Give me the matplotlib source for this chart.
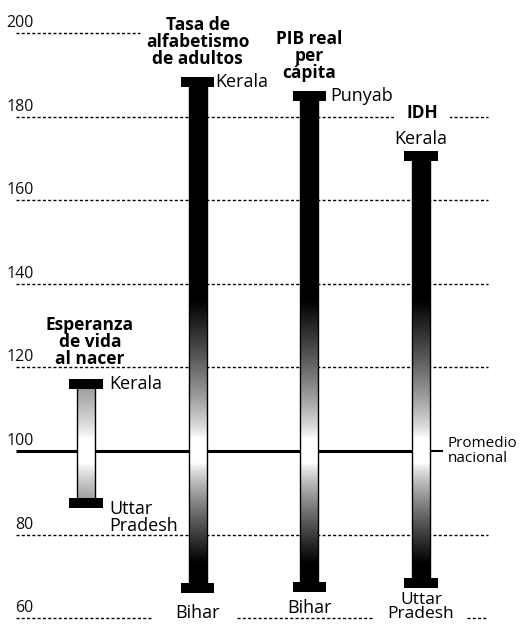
import numpy as np
import matplotlib
matplotlib.use("Agg")
import matplotlib.pyplot as plt

plt.rcParams['font.family'] = ['Open Sans', 'DejaVu Sans']

# ---------------- data ----------------
indicators = ["Esperanza\nde vida\nal nacer", "Tasa de\nalfabetismo\nde adultos",
              "PIB real\nper\ncápita", "IDH"]
high_values = [116.0, 188.3, 185.0, 170.6]
low_values = [87.6, 67.2, 67.5, 68.4]
high_states = ["Kerala", "Kerala", "Punyab", "Kerala"]
low_states = ["Uttar\nPradesh", "Bihar", "Bihar", "Uttar\nPradesh"]
national_average = 100
tick_values = [60, 80, 100, 120, 140, 160, 180, 200]
average_label = "Promedio\nnacional"

# ---------------- figure ----------------
W, H = 521, 630
fig = plt.figure(figsize=(W / 100, H / 100), dpi=100)
ax = fig.add_axes([0, 0, 1, 1])
ax.set_xlim(-0.77, 3.895)
ax.set_ylim(57.2, 207.9)
ax.axis('off')

x = np.arange(len(indicators))
body_w = 0.16
cap_w = 0.30
cap_h = 2.4

# gridlines (dotted) with segments
dot = dict(color='black', lw=1.0, linestyle=(0, (2.2, 1.6)), zorder=1)
grid_segments = {
    200: [(-0.63, 0.485)],
    180: [(-0.63, 3.6)],
    160: [(-0.63, 3.6)],
    140: [(-0.63, 3.6)],
    120: [(-0.63, 3.6)],
    80: [(-0.63, 3.6)],
    60: [(-0.63, 0.59), (1.35, 2.56), (3.41, 3.6)],
}
for v, segs in grid_segments.items():
    for a, b in segs:
        ax.plot([a, b], [v, v], **dot)

# national average line
ax.plot([-0.63, x[-1]], [national_average, national_average], color='black', lw=2.2,
        zorder=2, solid_capstyle='butt')
ax.plot([x[-1] + 0.08, x[-1] + 0.19], [national_average, national_average],
        color='black', lw=1.5, zorder=2)
ax.text(x[-1] + 0.235, national_average, average_label, ha='left', va='center',
        fontsize=11, linespacing=1.0, zorder=5)

# tick labels
for v in tick_values:
    ax.annotate(str(v), (-0.47, v), xytext=(0, 10), textcoords='offset pixels',
                ha='right', va='center', fontsize=11.5, color='#111111')

# gradient bars
def shade(vals, strength):
    d = np.where(vals >= national_average,
                 (vals - national_average - 3) / 33.0,
                 (national_average - vals - 3) / 24.0)
    d = np.clip(d, 0, 1) ** 0.8
    return 1 - np.clip(d * strength, 0, 1)

cmap = plt.get_cmap('gray')
strengths = [0.85, 1.0, 1.0, 1.0]
for i in range(len(indicators)):
    lo, hi = low_values[i], high_values[i]
    vals = np.linspace(hi, lo, 400)
    g = shade(vals, strengths[i])[:, None]
    ax.imshow(g, cmap=cmap, vmin=0, vmax=1, aspect='auto', interpolation='bilinear',
              extent=(x[i] - body_w / 2, x[i] + body_w / 2, lo, hi), zorder=3)
    ax.bar(x[i], hi - lo, bottom=lo, width=body_w, fill=False, edgecolor='black',
           lw=1.0, zorder=4)
    for v in (lo, hi):
        ax.bar(x[i], cap_h, bottom=v - cap_h / 2, width=cap_w, color='black', zorder=4)

title_kw = dict(fontsize=12.5, fontweight='bold', linespacing=0.92, ha='center')
lab_kw = dict(fontsize=13, linespacing=0.92)

# Esperanza de vida
ax.annotate(indicators[0], (x[0], high_values[0]), xytext=(4, 16),
            textcoords='offset pixels', va='bottom', **title_kw)
ax.annotate(high_states[0], (x[0], high_values[0]), xytext=(23, 0),
            textcoords='offset pixels', ha='left', va='center', **lab_kw)
ax.annotate(low_states[0], (x[0], low_values[0]), xytext=(23, 3),
            textcoords='offset pixels', ha='left', va='top', **lab_kw)
# Alfabetismo
ax.annotate(indicators[1], (x[1], high_values[1]), xytext=(0, 14),
            textcoords='offset pixels', va='bottom', **title_kw)
ax.annotate(high_states[1], (x[1], high_values[1]), xytext=(18, 0),
            textcoords='offset pixels', ha='left', va='center', **lab_kw)
ax.annotate(low_states[1], (x[1], low_values[1]), xytext=(0, -25),
            textcoords='offset pixels', ha='center', va='center', **lab_kw)
# PIB
ax.annotate(indicators[2], (x[2], high_values[2]), xytext=(0, 14),
            textcoords='offset pixels', va='bottom', **title_kw)
ax.annotate(high_states[2], (x[2], high_values[2]), xytext=(21, 0),
            textcoords='offset pixels', ha='left', va='center', **lab_kw)
ax.annotate(low_states[2], (x[2], low_values[2]), xytext=(0, -21),
            textcoords='offset pixels', ha='center', va='center', **lab_kw)
# IDH
ax.annotate(indicators[3], (x[3], high_values[3]), xytext=(1, 43),
            textcoords='offset pixels', va='center',
            bbox=dict(facecolor='white', edgecolor='none', pad=9), **title_kw)
ax.annotate(high_states[3], (x[3], high_values[3]), xytext=(0, 17),
            textcoords='offset pixels', ha='center', va='center', **lab_kw)
ax.annotate(low_states[3], (x[3], low_values[3]), xytext=(0, -9),
            textcoords='offset pixels', ha='center', va='top',
            fontsize=12.5, linespacing=0.85)

fig.savefig("out.png", dpi=100)
